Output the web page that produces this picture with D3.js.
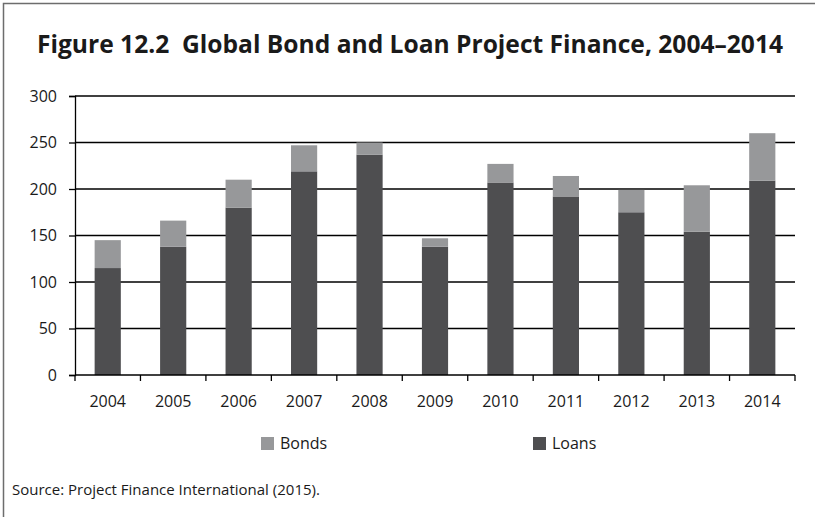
<!DOCTYPE html>
<html>
<head>
<meta charset="utf-8">
<script src="https://cdn.jsdelivr.net/npm/d3@7"></script>
<style>
  html, body { margin: 0; padding: 0; background: #fff; }
  svg { display: block; }
  text { font-family: "Open Sans", "DejaVu Sans", sans-serif; fill: #1a1a1a; }
  .title { white-space: pre; }
</style>
</head>
<body>
<svg id="chart" width="815" height="517"></svg>
<script>
// Global project finance by instrument, US$ billions
const years = ["2004", "2005", "2006", "2007", "2008", "2009", "2010", "2011", "2012", "2013", "2014"];
const loans = [115, 138, 180, 219, 237, 138, 207, 192, 175, 154, 209];
const bonds = [30, 28, 30, 28, 13, 9, 20, 22, 24, 50, 51];
const seriesNames = ["Bonds", "Loans"];
const yTicks = [0, 50, 100, 150, 200, 250, 300];

const colors = { Bonds: "#97989a", Loans: "#4e4e50" };

const W = 815, H = 517;
const margin = { top: 96, right: 20, bottom: 142, left: 75 };
const innerW = W - margin.left - margin.right;
const innerH = H - margin.top - margin.bottom;

const svg = d3.select("#chart");

// figure frame (top and left rules)
svg.append("path")
  .attr("d", `M3.5,${H} V3.5 H${W}`)
  .attr("fill", "none")
  .attr("stroke", "#6d6d6d")
  .attr("stroke-width", 1.5);

svg.append("text")
  .attr("class", "title")
  .attr("x", 37).attr("y", 53)
  .attr("font-size", 25)
  .attr("font-weight", 700)
  .attr("textLength", 746)
  .attr("lengthAdjust", "spacingAndGlyphs")
  .attr("fill", "#111")
  .text("Figure 12.2  Global Bond and Loan Project Finance, 2004\u20132014");

const g = svg.append("g").attr("transform", `translate(${margin.left},${margin.top})`);

const x = d3.scaleBand().domain(years).range([0, innerW]).paddingInner(0.6).paddingOuter(0.3);
const xEdges = d3.scaleBand().domain(years).range([0, innerW]).padding(0);
const y = d3.scaleLinear().domain([0, 300]).range([innerH, 0]);

// horizontal gridlines
g.append("g")
  .selectAll("line")
  .data(yTicks.filter(d => d > 0))
  .join("line")
  .attr("x1", 0).attr("x2", innerW)
  .attr("y1", d => y(d)).attr("y2", d => y(d))
  .attr("stroke", "#000")
  .attr("stroke-width", 1.3);

// stacked bars
const rows = years.map((yr, i) => ({ year: yr, Loans: loans[i], Bonds: bonds[i] }));
const stacked = d3.stack().keys(["Loans", "Bonds"])(rows);

g.append("g")
  .selectAll("g")
  .data(stacked)
  .join("g")
  .attr("fill", d => colors[d.key])
  .selectAll("rect")
  .data(d => d)
  .join("rect")
  .attr("x", d => x(d.data.year))
  .attr("width", x.bandwidth())
  .attr("y", d => y(d[1]))
  .attr("height", d => y(d[0]) - y(d[1]));

// y axis
const yAxis = g.append("g")
  .call(d3.axisLeft(y).tickValues(yTicks).tickSize(6).tickPadding(12));
yAxis.select(".domain").attr("stroke", "#000").attr("stroke-width", 1.3);
yAxis.selectAll(".tick line").attr("stroke", "#000").attr("stroke-width", 1.3);
yAxis.selectAll("text").attr("font-size", 16).attr("fill", "#1a1a1a");

// x axis with ticks at category boundaries
const xAxisG = g.append("g").attr("transform", `translate(0,${innerH})`);
xAxisG.append("line")
  .attr("x1", 0).attr("x2", innerW)
  .attr("stroke", "#000").attr("stroke-width", 1.3);
const boundaries = years.map(d => xEdges(d)).concat([innerW]);
xAxisG.selectAll("line.tk")
  .data(boundaries)
  .join("line")
  .attr("class", "tk")
  .attr("x1", d => d).attr("x2", d => d)
  .attr("y1", 0).attr("y2", 6)
  .attr("stroke", "#000").attr("stroke-width", 1.3);
xAxisG.selectAll("text")
  .data(years)
  .join("text")
  .attr("x", d => x(d) + x.bandwidth() / 2)
  .attr("y", 32)
  .attr("text-anchor", "middle")
  .attr("font-size", 16)
  .text(d => d);

// legend
const legendX = { Bonds: 261, Loans: 533 };
const legend = svg.append("g");
seriesNames.forEach(name => {
  legend.append("rect")
    .attr("x", legendX[name]).attr("y", 437)
    .attr("width", 13).attr("height", 13)
    .attr("fill", colors[name]);
  legend.append("text")
    .attr("x", legendX[name] + 19).attr("y", 449)
    .attr("font-size", 16)
    .text(name);
});

svg.append("text")
  .attr("x", 12).attr("y", 495)
  .attr("font-size", 15)
  .text("Source: Project Finance International (2015).");
</script>
</body>
</html>
